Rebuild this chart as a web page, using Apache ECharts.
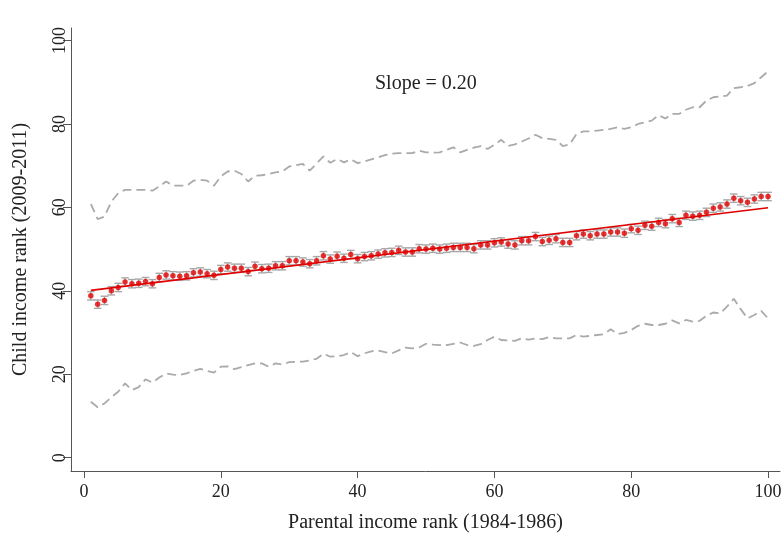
<!DOCTYPE html>
<html>
<head>
<meta charset="utf-8">
<script src="https://cdn.jsdelivr.net/npm/echarts@6/dist/echarts.min.js"></script>
<style>html,body{margin:0;padding:0;background:#fff}#chart{width:783px;height:533px}</style>
</head>
<body>
<div id="chart"></div>
<script>
// Parental income percentile rank
const parentRank = [1,2,3,4,5,6,7,8,9,10,11,12,13,14,15,16,17,18,19,20,21,22,23,24,25,26,27,28,29,30,31,32,33,34,35,36,37,38,39,40,41,42,43,44,45,46,47,48,49,50,51,52,53,54,55,56,57,58,59,60,61,62,63,64,65,66,67,68,69,70,71,72,73,74,75,76,77,78,79,80,81,82,83,84,85,86,87,88,89,90,91,92,93,94,95,96,97,98,99,100];
// Mean child income rank
const meanRank = [38.8,36.8,37.7,40.0,40.8,42.1,41.7,41.8,42.2,41.7,43.2,43.8,43.6,43.5,43.6,44.3,44.5,44.1,43.7,45.1,45.7,45.4,45.4,44.6,45.9,45.3,45.4,46.0,46.0,47.2,47.2,46.9,46.5,47.2,48.4,47.6,48.3,47.8,48.7,47.7,48.2,48.4,48.8,49.1,49.2,49.7,49.3,49.3,50.1,50.0,50.2,50.0,50.2,50.4,50.4,50.4,50.1,51.0,51.0,51.5,51.7,51.2,51.0,52.0,52.0,53.0,51.8,52.1,52.5,51.6,51.6,53.2,53.6,53.2,53.6,53.6,54.1,54.1,53.8,54.9,54.5,55.7,55.5,56.4,56.1,57.3,56.4,58.1,57.9,58.1,58.8,59.8,60.1,60.8,62.2,61.6,61.2,62.0,62.6,62.6];
// Upper dashed band (90th percentile)
const upperRank = [60.8,57.2,57.8,61.4,63.4,64.2,64.2,64.2,64.2,64.0,65.0,66.2,65.2,65.2,65.2,66.4,66.6,66.4,65.2,67.4,68.6,68.8,68.0,66.2,67.6,67.7,68.0,68.4,68.6,69.8,70.1,70.4,68.8,70.5,72.2,70.7,71.6,70.8,71.5,70.6,71.0,71.5,72.0,72.5,72.9,73.0,73.0,73.0,73.6,73.2,73.1,73.2,73.8,74.4,73.2,73.8,74.3,74.7,74.0,75.0,76.2,74.7,75.1,75.8,76.5,77.4,76.6,76.4,76.2,74.7,75.1,77.6,78.2,78.2,78.4,78.6,78.8,79.2,78.8,79.2,80.0,80.4,80.8,82.1,81.3,82.4,82.4,83.4,84.0,84.0,85.6,86.4,86.6,86.8,88.6,88.8,89.1,89.8,91.2,92.6];
// Lower dashed band (10th percentile)
const lowerRank = [13.4,12.1,13.0,14.5,15.8,17.8,16.2,16.9,18.8,18.0,19.2,20.2,19.9,19.8,20.2,20.8,21.3,20.8,20.4,21.8,21.9,21.2,21.7,22.2,22.6,22.6,21.8,22.6,22.3,22.9,23.0,23.0,23.3,23.7,24.9,24.2,24.3,24.6,25.3,24.3,25.0,25.5,25.7,25.3,25.0,25.7,26.4,26.2,26.4,27.3,27.1,27.0,27.0,27.3,27.6,27.0,26.8,27.2,28.2,29.0,28.2,28.1,28.0,28.6,28.3,28.6,28.4,28.9,28.6,28.6,28.6,29.4,29.0,29.2,29.4,29.6,30.8,29.6,29.9,30.6,31.6,32.1,31.8,31.8,32.1,32.9,32.2,33.0,32.6,32.8,34.0,34.8,34.6,36.2,38.1,35.6,33.4,34.2,35.2,33.4];
// Half-width of confidence interval around each mean
const ciHalf = 1.0;
// Fitted regression line endpoints
const fitX = [1, 100];
const fitY = [40.1, 59.9];
// Tick labels
const xTicks = [0, 20, 40, 60, 80, 100];
const yTicks = [0, 20, 40, 60, 80, 100];

const serif = "'Liberation Serif','Times New Roman',serif";
const chart = echarts.init(document.getElementById('chart'), null, {renderer: 'canvas'});

const errData = parentRank.map((x, i) => [x, meanRank[i] - ciHalf, meanRank[i] + ciHalf]);

chart.setOption({
  animation: false,
  backgroundColor: '#fff',
  grid: {left: 71, right: 3, top: 28, bottom: 62, containLabel: false, outerBoundsMode: 'none'},
  xAxis: {
    type: 'value', min: -1.9, max: 101.75,
    name: 'Parental income rank (1984-1986)', nameLocation: 'middle', nameGap: 42,
    nameTextStyle: {fontFamily: serif, fontSize: 20, color: '#222'},
    axisLine: {onZero: false, lineStyle: {color: '#555', width: 1}},
    axisTick: {show: true, length: 7, customValues: xTicks, lineStyle: {color: '#555'}},
    axisLabel: {customValues: xTicks, fontFamily: serif, fontSize: 18, color: '#222', margin: 12},
    splitLine: {show: false}
  },
  yAxis: {
    type: 'value', min: -3.2, max: 103,
    name: 'Child income rank (2009-2011)', nameLocation: 'middle', nameGap: 40,
    nameTextStyle: {fontFamily: serif, fontSize: 20, color: '#222'},
    axisLine: {onZero: false, lineStyle: {color: '#555', width: 1}},
    axisTick: {show: true, length: 8, customValues: yTicks, lineStyle: {color: '#555'}},
    axisLabel: {customValues: yTicks, fontFamily: serif, fontSize: 18, color: '#222', rotate: 90, margin: 2},
    splitLine: {show: false}
  },
  graphic: [{
    type: 'text', left: 375, top: 74,
    style: {text: 'Slope = 0.20', fontFamily: serif, fontSize: 20, fill: '#222'}
  }],
  series: [
    {
      type: 'line', data: parentRank.map((x, i) => [x, upperRank[i]]),
      showSymbol: false, lineStyle: {color: '#aaa', width: 1.8, type: [9, 5]}, z: 1
    },
    {
      type: 'line', data: parentRank.map((x, i) => [x, lowerRank[i]]),
      showSymbol: false, lineStyle: {color: '#aaa', width: 1.8, type: [9, 5]}, z: 1
    },
    {
      type: 'custom', z: 2,
      data: errData,
      encode: {x: 0, y: [1, 2]},
      renderItem: function (params, api) {
        const x = api.value(0);
        const lo = api.coord([x, api.value(1)]);
        const hi = api.coord([x, api.value(2)]);
        const hw = 3.8;
        const st = {stroke: '#a8a8a8', lineWidth: 1.4};
        return {type: 'group', children: [
          {type: 'line', shape: {x1: lo[0], y1: lo[1], x2: hi[0], y2: hi[1]}, style: st},
          {type: 'line', shape: {x1: lo[0] - hw, y1: lo[1], x2: lo[0] + hw, y2: lo[1]}, style: st},
          {type: 'line', shape: {x1: hi[0] - hw, y1: hi[1], x2: hi[0] + hw, y2: hi[1]}, style: st}
        ]};
      }
    },
    {
      type: 'line', data: fitX.map((x, i) => [x, fitY[i]]),
      showSymbol: false, lineStyle: {color: '#e00000', width: 1.6}, z: 3
    },
    {
      type: 'scatter', data: parentRank.map((x, i) => [x, meanRank[i]]),
      symbol: 'circle', symbolSize: 5.5, itemStyle: {color: '#e00000'}, z: 4
    }
  ]
});
</script>
</body>
</html>
